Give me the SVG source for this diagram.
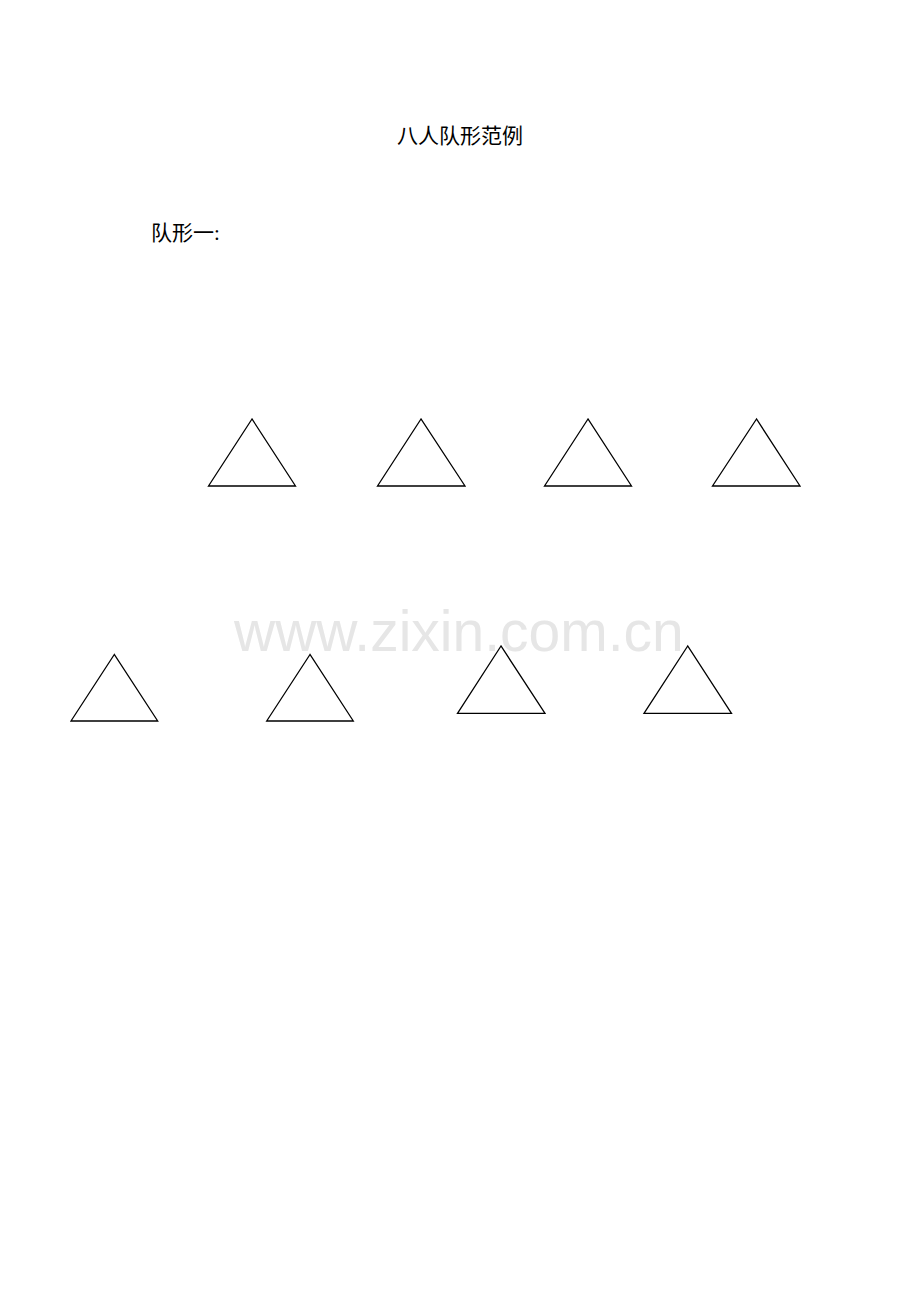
<svg xmlns="http://www.w3.org/2000/svg" width="920" height="1302" viewBox="0 0 920 1302">
<style>
.t{font-family:"Liberation Serif","Noto Sans CJK SC",serif;font-size:21px;fill:#000}
.tri{fill:none;stroke:#000;stroke-width:1.3;stroke-linejoin:miter}
.wm{font-family:"Liberation Sans",Arial,sans-serif;font-size:57px;fill:#e6e6e6}
</style>
<rect width="920" height="1302" fill="#fff"/>
<g id="watermark"><text class="wm" x="234" y="651">www.zixin.com.cn</text></g>
<g id="title"><text class="t" x="460" y="143" text-anchor="middle">八人队形范例</text></g>
<g id="label"><text class="t" x="151" y="240">队形一:</text></g>
<g id="p1"><polygon class="tri" points="252,419 208.5,486 295.5,486"/></g>
<g id="p2"><polygon class="tri" points="421,419 377.5,486 465,486"/></g>
<g id="p3"><polygon class="tri" points="588,419 544.5,486 631.5,486"/></g>
<g id="p4"><polygon class="tri" points="756.5,419 712.5,486 800,486"/></g>
<g id="p5"><polygon class="tri" points="114.3,654.5 71,721 157.7,721"/></g>
<g id="p6"><polygon class="tri" points="310,654.5 266.7,721 353.3,721"/></g>
<g id="p7"><polygon class="tri" points="501,646 457.5,713.3 545,713.3"/></g>
<g id="p8"><polygon class="tri" points="687.7,646 644,713.3 731.5,713.3"/></g>
<g id="connectors"></g>
</svg>
